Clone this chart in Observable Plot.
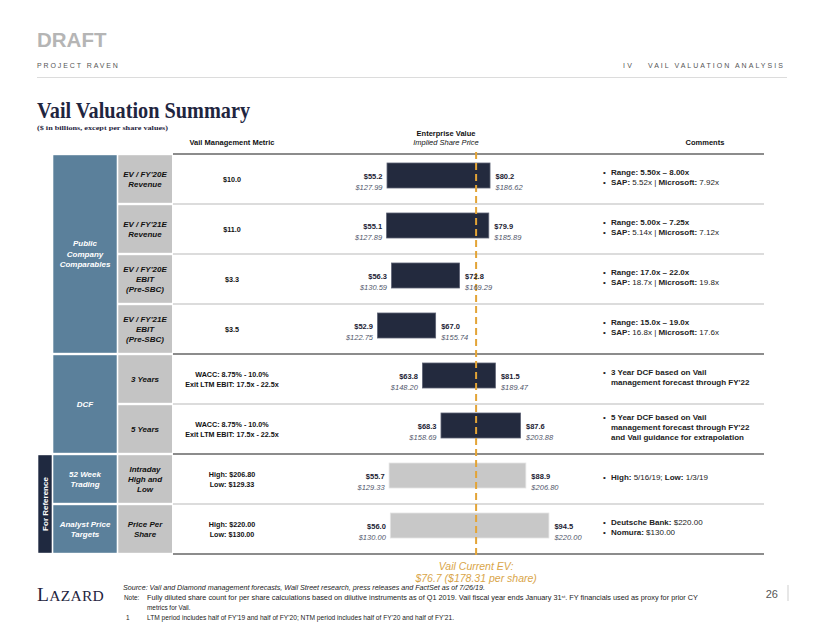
<!DOCTYPE html>
<html><head><meta charset="utf-8">
<script src="https://cdn.jsdelivr.net/npm/d3@7"></script>
<script src="https://cdn.jsdelivr.net/npm/@observablehq/plot@0.6"></script>
<style>
html,body{margin:0;padding:0;background:#fff;}
#page{position:relative;width:822px;height:635px;overflow:hidden;font-family:"Liberation Sans",Arial,sans-serif;}
#page > svg{position:absolute;left:0;top:0;}
</style></head><body><div id="page"></div>
<script>
// ---------- data ----------
const groups = ["Public\nCompany\nComparables", "DCF", "52 Week\nTrading", "Analyst Price\nTargets"];
const groupOfRow = [0, 0, 0, 0, 1, 1, 2, 3];
const sectionOfRow = [0, 0, 0, 0, 1, 1, 2, 2];
const methods = ["EV / FY'20E\nRevenue", "EV / FY'21E\nRevenue", "EV / FY'20E\nEBIT\n(Pre-SBC)", "EV / FY'21E\nEBIT\n(Pre-SBC)", "3 Years", "5 Years", "Intraday\nHigh and\nLow", "Price Per\nShare"];
const mgmtMetric = ["$10.0", "$11.0", "$3.3", "$3.5",
  "WACC: 8.75% - 10.0%\nExit LTM EBIT: 17.5x - 22.5x",
  "WACC: 8.75% - 10.0%\nExit LTM EBIT: 17.5x - 22.5x",
  "High: $206.80\nLow: $129.33", "High: $220.00\nLow: $130.00"];
const evLow = [55.2, 55.1, 56.3, 52.9, 63.8, 68.3, 55.7, 56.0];
const evHigh = [80.2, 79.9, 72.8, 67.0, 81.5, 87.6, 88.9, 94.5];
const priceLow = [127.99, 127.89, 130.59, 122.75, 148.20, 158.69, 129.33, 130.00];
const priceHigh = [186.62, 185.89, 169.29, 155.74, 189.47, 203.88, 206.80, 220.00];
const referenceRow = [false, false, false, false, false, false, true, true];
const currentEV = 76.7;
const currentPrice = 178.31;
const comments = [
  ["**Range: 5.50x – 8.00x**", "**SAP:** 5.52x | **Microsoft:** 7.92x"],
  ["**Range: 5.00x – 7.25x**", "**SAP:** 5.14x | **Microsoft:** 7.12x"],
  ["**Range: 17.0x – 22.0x**", "**SAP:** 18.7x | **Microsoft:** 19.8x"],
  ["**Range: 15.0x – 19.0x**", "**SAP:** 16.8x | **Microsoft:** 17.6x"],
  ["**3 Year DCF based on Vail**\n**management forecast through FY'22**"],
  ["**5 Year DCF based on Vail**\n**management forecast through FY'22**\n**and Vail guidance for extrapolation**"],
  ["**High:** 5/16/19; **Low:** 1/3/19"],
  ["**Deutsche Bank:** $220.00", "**Nomura:** $130.00"]
];

const rows = evLow.map((d, i) => ({row: i, lo: d, hi: evHigh[i], plo: priceLow[i], phi: priceHigh[i], ref: referenceRow[i]}));

// ---------- plot ----------
const FONT = "Liberation Sans, Arial, sans-serif";
const plot = Plot.plot({
  width: 822, height: 635,
  marginTop: 152, marginBottom: 79, marginLeft: 283.2, marginRight: 209.2,
  x: {domain: [30, 110], axis: null},
  y: {domain: rows.map(d => d.row), axis: null, padding: 0},
  style: {fontFamily: FONT, fontSize: "7.5px", background: "transparent", overflow: "visible"},
  marks: [
    Plot.barX(rows, {x1: "lo", x2: "hi", y: "row", insetTop: 9, insetBottom: 16,
      fill: d => d.ref ? "#c8c8c8" : "#232a3e", stroke: d => d.ref ? "#e4e4e4" : "#5d6274", strokeWidth: 0.8}),
    Plot.ruleX([currentEV], {stroke: "#e3a436", strokeWidth: 2, strokeDasharray: "7,4", insetBottom: -3}),
    Plot.text(rows, {x: "lo", y: "row", text: d => `$${d.lo.toFixed(1)}`, textAnchor: "end", dx: -5, dy: -3.25, fontWeight: "bold", fill: "#1b2233"}),
    Plot.text(rows, {x: "lo", y: "row", text: d => `$${d.plo.toFixed(2)}`, textAnchor: "end", dx: -5, dy: 7.75, fontStyle: "italic", fill: "#50566a"}),
    Plot.text(rows, {x: "hi", y: "row", text: d => `$${d.hi.toFixed(1)}`, textAnchor: "start", dx: 5, dy: -3.25, fontWeight: "bold", fill: "#1b2233"}),
    Plot.text(rows, {x: "hi", y: "row", text: d => `$${d.phi.toFixed(2)}`, textAnchor: "start", dx: 5, dy: 7.75, fontStyle: "italic", fill: "#50566a"}),
    Plot.text([currentEV], {x: d => d, frameAnchor: "bottom", lineAnchor: "top", dy: 4.5,
      text: () => `Vail Current EV:\n$${currentEV.toFixed(1)} ($${currentPrice.toFixed(2)} per share)`,
      fill: "#d9a548", fontStyle: "italic", fontSize: 10.5, lineHeight: 1.15})
  ]
});

// ---------- layout (table, header, footer) ----------
const page = document.getElementById("page");
const ys = plot.scale("y");
const bw = ys.bandwidth;
const rowTop = i => ys.apply(i);
const rowBot = i => ys.apply(i) + bw;

const svg = d3.select(page).append("svg").attr("width", 822).attr("height", 635)
  .style("font-family", FONT);

function addLines(g, lines, x, cy, size, lh, attrs) {
  const n = lines.length;
  const t = g.append("text").attr("x", x).attr("font-size", size);
  Object.entries(attrs || {}).forEach(([k, v]) => t.attr(k, v));
  lines.forEach((ln, j) => {
    t.append("tspan").attr("x", x).attr("y", cy + (j - (n - 1) / 2) * lh).attr("dy", "0.35em").text(ln);
  });
  return t;
}
function richLine(g, str, x, yb, size, fill) {
  const t = g.append("text").attr("x", x).attr("y", yb).attr("font-size", size).attr("fill", fill).attr("dy", "0.35em");
  str.split("**").forEach((seg, k) => {
    if (seg) t.append("tspan").attr("font-weight", k % 2 ? "bold" : "normal").text(seg);
  });
}

// header
svg.append("text").attr("x", 37).attr("y", 47).attr("font-size", 20.5).attr("font-weight", "bold").attr("fill", "#b5b5b5").text("DRAFT");
svg.append("text").attr("x", 37).attr("y", 67.5).attr("font-size", 7).attr("letter-spacing", 1.9).attr("fill", "#555").text("PROJECT RAVEN");
svg.append("text").attr("x", 623).attr("y", 67.5).attr("font-size", 7).attr("letter-spacing", 2.2).attr("fill", "#555").text("IV");
svg.append("text").attr("x", 785).attr("y", 67.5).attr("font-size", 7).attr("letter-spacing", 2.2).attr("text-anchor", "end").attr("fill", "#555")
  .attr("textLength", 137).text("VAIL VALUATION ANALYSIS");
svg.append("line").attr("x1", 37).attr("x2", 787).attr("y1", 77.5).attr("y2", 77.5).attr("stroke", "#dcdcdc");
svg.append("text").attr("x", 37).attr("y", 118).attr("font-family", "Liberation Serif, serif").attr("font-size", 24).attr("font-weight", "bold")
  .attr("fill", "#1f2540").attr("textLength", 213).attr("lengthAdjust", "spacingAndGlyphs").text("Vail Valuation Summary");
svg.append("text").attr("x", 37).attr("y", 130).attr("font-family", "Liberation Serif, serif").attr("font-size", 6.5).attr("font-weight", "bold")
  .attr("fill", "#1f2540").attr("textLength", 131).attr("lengthAdjust", "spacingAndGlyphs").text("($ in billions, except per share values)");
svg.append("text").attr("x", 232).attr("y", 145).attr("font-size", 7.5).attr("font-weight", "bold").attr("text-anchor", "middle").attr("fill", "#111").text("Vail Management Metric");
svg.append("text").attr("x", 446).attr("y", 135.5).attr("font-size", 7.5).attr("font-weight", "bold").attr("text-anchor", "middle").attr("fill", "#111").text("Enterprise Value");
svg.append("text").attr("x", 446).attr("y", 145).attr("font-size", 7.5).attr("font-style", "italic").attr("text-anchor", "middle").attr("fill", "#111").text("Implied Share Price");
svg.append("text").attr("x", 705).attr("y", 145).attr("font-size", 7.5).attr("font-weight", "bold").attr("text-anchor", "middle").attr("fill", "#111").text("Comments");

// separators
for (let i = 1; i < rows.length; i++) {
  const thick = sectionOfRow[i] !== sectionOfRow[i - 1];
  svg.append("line").attr("x1", 173).attr("x2", 764).attr("y1", rowTop(i)).attr("y2", rowTop(i))
    .attr("stroke", thick ? "#8c8c8c" : "#d0d0d0").attr("stroke-width", thick ? 2 : 1.5);
}
svg.append("line").attr("x1", 173).attr("x2", 764).attr("y1", rowTop(0)).attr("y2", rowTop(0)).attr("stroke", "#8c8c8c").attr("stroke-width", 2);
svg.append("line").attr("x1", 173).attr("x2", 764).attr("y1", rowBot(rows.length - 1)).attr("y2", rowBot(rows.length - 1)).attr("stroke", "#8c8c8c").attr("stroke-width", 2);

// group cells
groups.forEach((g, k) => {
  const idx = groupOfRow.map((v, i) => v === k ? i : -1).filter(i => i >= 0);
  const y0 = rowTop(idx[0]) + 1.2, y1 = rowBot(idx[idx.length - 1]) - 1.2;
  svg.append("rect").attr("x", 53.3).attr("y", y0).attr("width", 63.4).attr("height", y1 - y0).attr("fill", "#5b809b");
  addLines(svg, g.split("\n"), 85, (y0 + y1) / 2, 8, 10.5, {"text-anchor": "middle", "font-weight": "bold", "font-style": "italic", "fill": "#fff"});
});
// for reference strip
{
  const refIdx = referenceRow.map((v, i) => v ? i : -1).filter(i => i >= 0);
  const y0 = rowTop(refIdx[0]) + 1.2, y1 = rowBot(refIdx[refIdx.length - 1]) - 1.2;
  svg.append("rect").attr("x", 38.3).attr("y", y0).attr("width", 13.4).attr("height", y1 - y0).attr("fill", "#1f2940");
  svg.append("text").attr("transform", `translate(45,${(y0 + y1) / 2}) rotate(-90)`).attr("text-anchor", "middle").attr("dy", "0.35em")
    .attr("font-size", 8).attr("font-weight", "bold").attr("fill", "#fff").text("For Reference");
}
// method cells, metric texts, comments
rows.forEach((d, i) => {
  const y0 = rowTop(i) + 1.2, y1 = rowBot(i) - 1.2, cy = rowTop(i) + bw / 2;
  svg.append("rect").attr("x", 118.3).attr("y", y0).attr("width", 53.7).attr("height", y1 - y0).attr("fill", "#c4c4c4");
  addLines(svg, methods[i].split("\n"), 145, cy, 8, 10, {"text-anchor": "middle", "font-weight": "bold", "font-style": "italic", "fill": "#111"});
  addLines(svg, mgmtMetric[i].split("\n"), 232, cy, 7.2, 10, {"text-anchor": "middle", "font-weight": "bold", "fill": "#111"});
  const lines = [];
  comments[i].forEach(b => b.split("\n").forEach((ln, j) => lines.push({ln, bullet: j === 0})));
  const n = lines.length, lh = 9.8, c = cy - 2;
  lines.forEach((o, j) => {
    const yb = c + (j - (n - 1) / 2) * lh;
    if (o.bullet) svg.append("text").attr("x", 603).attr("y", yb).attr("dy", "0.35em").attr("font-size", 8).attr("fill", "#222").text("•");
    richLine(svg, o.ln, 611, yb, 8, "#222");
  });
});

// footer
const lz = svg.append("text").attr("x", 37).attr("y", 601).attr("font-family", "Liberation Serif, serif").attr("fill", "#1f2540").attr("letter-spacing", 0.3);
lz.append("tspan").attr("font-size", 19.5).text("L");
lz.append("tspan").attr("font-size", 15.5).text("AZARD");
const fn = svg.append("g").attr("font-size", 6.4).attr("fill", "#222");
fn.append("text").attr("x", 123).attr("y", 590).attr("font-style", "italic").attr("textLength", 362).attr("lengthAdjust", "spacingAndGlyphs")
  .text("Source: Vail and Diamond management forecasts, Wall Street research, press releases and FactSet as of 7/26/19.");
fn.append("text").attr("x", 124).attr("y", 600).text("Note:");
const nt = fn.append("text").attr("x", 147).attr("y", 600).attr("textLength", 551).attr("lengthAdjust", "spacingAndGlyphs");
nt.append("tspan").text("Fully diluted share count for per share calculations based on dilutive instruments as of Q1 2019. Vail fiscal year ends January 31");
nt.append("tspan").attr("font-size", 4).attr("dy", -2.5).text("st");
nt.append("tspan").attr("dy", 2.5).text(". FY financials used as proxy for prior CY");
fn.append("text").attr("x", 147).attr("y", 609.5).text("metrics for Vail.");
fn.append("text").attr("x", 126).attr("y", 620).text("1");
fn.append("text").attr("x", 147).attr("y", 620).attr("textLength", 307).attr("lengthAdjust", "spacingAndGlyphs")
  .text("LTM period includes half of FY'19 and half of FY'20; NTM period includes half of FY'20 and half of FY'21.");
svg.append("text").attr("x", 778).attr("y", 598).attr("font-size", 11).attr("text-anchor", "end").attr("fill", "#555").text("26");
svg.append("line").attr("x1", 788).attr("x2", 788).attr("y1", 585).attr("y2", 601).attr("stroke", "#cfcfcf");

page.appendChild(plot);
</script></body></html>
